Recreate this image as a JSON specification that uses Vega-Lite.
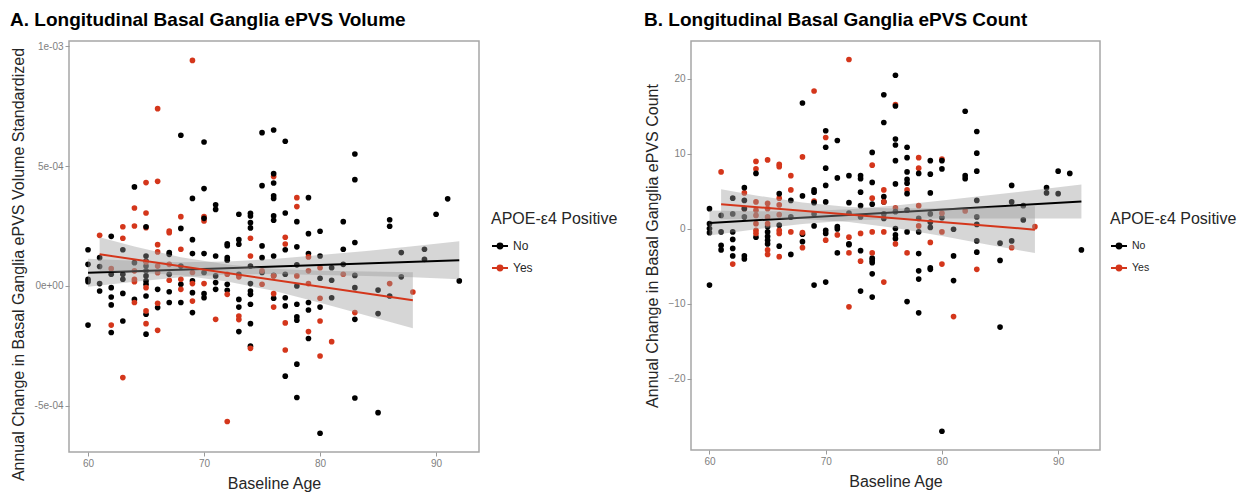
{
"$schema": "https://vega.github.io/schema/vega-lite/v6.json",
"background": "white",
"padding": {"left": 9, "top": 10, "right": 5, "bottom": 2},
"spacing": 24,
"config": {
  "font": "Liberation Sans",
  "view": {"stroke": "#a6a6a6", "strokeWidth": 1.5},
  "axis": {"grid": false, "domain": false, "tickColor": "#9a9a9a", "tickSize": 4, "labelColor": "#808080", "labelFontSize": 10, "labelPadding": 2, "titleFontSize": 16, "titleFontWeight": "normal", "titleColor": "#262626"},
  "title": {"anchor": "start", "frame": "bounds", "fontSize": 19, "fontWeight": "bold", "color": "#000000", "offset": 11},
  "legend": {"titleFontSize": 16, "titleFontWeight": "normal", "titleColor": "#262626", "labelColor": "#262626", "symbolSize": 256, "symbolStrokeWidth": 2, "rowPadding": 6, "titlePadding": 10}
},
"datasets": {
  "ptsA": [
    {"x":69,"y":9.40e-4,"g":"Yes"},{"x":66,"y":7.39e-4,"g":"Yes"},{"x":76,"y":4.56e-4,"g":"Yes"},{"x":65,"y":4.31e-4,"g":"Yes"},{"x":66,"y":4.36e-4,"g":"Yes"},{"x":78,"y":3.68e-4,"g":"Yes"},{"x":64,"y":3.25e-4,"g":"Yes"},{"x":65,"y":3.04e-4,"g":"Yes"},{"x":68,"y":2.89e-4,"g":"Yes"},{"x":78,"y":3.31e-4,"g":"Yes"},{"x":70,"y":2.89e-4,"g":"Yes"},{"x":70,"y":2.71e-4,"g":"Yes"},{"x":65,"y":2.43e-4,"g":"Yes"},{"x":63,"y":2.47e-4,"g":"Yes"},{"x":64,"y":2.50e-4,"g":"Yes"},{"x":67,"y":2.29e-4,"g":"Yes"},{"x":67,"y":2.22e-4,"g":"Yes"},{"x":61,"y":2.11e-4,"g":"Yes"},{"x":63,"y":1.99e-4,"g":"Yes"},{"x":74,"y":1.99e-4,"g":"Yes"},{"x":77,"y":2.03e-4,"g":"Yes"},{"x":77,"y":1.75e-4,"g":"Yes"},{"x":66,"y":1.72e-4,"g":"Yes"},{"x":68,"y":1.53e-4,"g":"Yes"},
    {"x":68,"y":6.28e-4,"g":"No"},{"x":70,"y":6.00e-4,"g":"No"},{"x":75,"y":6.39e-4,"g":"No"},{"x":76,"y":6.50e-4,"g":"No"},{"x":77,"y":6.03e-4,"g":"No"},{"x":83,"y":5.50e-4,"g":"No"},{"x":83,"y":4.43e-4,"g":"No"},{"x":76,"y":4.68e-4,"g":"No"},{"x":76,"y":4.29e-4,"g":"No"},{"x":75,"y":4.18e-4,"g":"No"},{"x":64,"y":4.13e-4,"g":"No"},{"x":70,"y":4.06e-4,"g":"No"},{"x":69,"y":3.65e-4,"g":"No"},{"x":76,"y":3.76e-4,"g":"No"},{"x":76,"y":3.65e-4,"g":"No"},{"x":79,"y":3.68e-4,"g":"No"},{"x":91,"y":3.63e-4,"g":"No"},{"x":71,"y":3.38e-4,"g":"No"},{"x":71,"y":3.19e-4,"g":"No"},{"x":73,"y":2.99e-4,"g":"No"},{"x":74,"y":3.03e-4,"g":"No"},{"x":74,"y":2.92e-4,"g":"No"},{"x":74,"y":2.64e-4,"g":"No"},{"x":74,"y":2.42e-4,"g":"No"},{"x":76,"y":2.92e-4,"g":"No"},{"x":76,"y":2.74e-4,"g":"No"},{"x":77,"y":3.04e-4,"g":"No"},{"x":70,"y":2.82e-4,"g":"No"},{"x":78,"y":2.68e-4,"g":"No"},{"x":82,"y":2.68e-4,"g":"No"},{"x":86,"y":2.76e-4,"g":"No"},{"x":86,"y":2.49e-4,"g":"No"},{"x":90,"y":2.99e-4,"g":"No"},{"x":65,"y":2.47e-4,"g":"No"},{"x":68,"y":2.40e-4,"g":"No"},{"x":79,"y":2.18e-4,"g":"No"},{"x":80,"y":2.28e-4,"g":"No"},{"x":62,"y":2.07e-4,"g":"No"},{"x":69,"y":1.93e-4,"g":"No"},{"x":73,"y":1.93e-4,"g":"No"},{"x":72,"y":1.76e-4,"g":"No"},{"x":72,"y":1.68e-4,"g":"No"},{"x":73,"y":1.74e-4,"g":"No"},{"x":75,"y":1.67e-4,"g":"No"},{"x":78,"y":1.63e-4,"g":"No"},{"x":83,"y":1.81e-4,"g":"No"},{"x":60,"y":1.51e-4,"g":"No"},{"x":63,"y":1.51e-4,"g":"No"},{"x":77,"y":1.51e-4,"g":"No"},{"x":82,"y":1.53e-4,"g":"No"},{"x":89,"y":1.53e-4,"g":"No"},{"x":87,"y":1.39e-4,"g":"No"},
    {"x":60,"y":0.90e-4,"g":"No"},{"x":60,"y":0.28e-4,"g":"No"},{"x":60,"y":0.18e-4,"g":"No"},{"x":60,"y":-1.63e-4,"g":"No"},
    {"x":61,"y":1.18e-4,"g":"No"},{"x":61,"y":0.81e-4,"g":"No"},{"x":61,"y":0.10e-4,"g":"No"},{"x":61,"y":-0.21e-4,"g":"No"},
    {"x":62,"y":0.49e-4,"g":"No"},{"x":62,"y":-0.07e-4,"g":"No"},{"x":62,"y":-0.46e-4,"g":"No"},{"x":62,"y":-0.79e-4,"g":"No"},{"x":62,"y":-1.94e-4,"g":"No"},
    {"x":63,"y":0.49e-4,"g":"No"},{"x":63,"y":0.28e-4,"g":"No"},{"x":63,"y":-0.31e-4,"g":"No"},{"x":63,"y":-1.46e-4,"g":"No"},
    {"x":64,"y":0.97e-4,"g":"No"},{"x":64,"y":-0.56e-4,"g":"No"},
    {"x":65,"y":1.25e-4,"g":"No"},{"x":65,"y":1.04e-4,"g":"No"},{"x":65,"y":0.83e-4,"g":"No"},{"x":65,"y":0.63e-4,"g":"No"},{"x":65,"y":0.42e-4,"g":"No"},{"x":65,"y":0.21e-4,"g":"No"},{"x":65,"y":0.07e-4,"g":"No"},{"x":65,"y":-0.42e-4,"g":"No"},{"x":65,"y":-1.18e-4,"g":"No"},{"x":65,"y":-2.01e-4,"g":"No"},
    {"x":66,"y":-0.14e-4,"g":"No"},{"x":66,"y":-0.90e-4,"g":"No"},
    {"x":67,"y":1.39e-4,"g":"No"},{"x":67,"y":1.32e-4,"g":"No"},{"x":67,"y":0.49e-4,"g":"No"},{"x":67,"y":-0.24e-4,"g":"No"},{"x":67,"y":-0.69e-4,"g":"No"},
    {"x":68,"y":0.83e-4,"g":"No"},{"x":68,"y":0.07e-4,"g":"No"},{"x":68,"y":-0.69e-4,"g":"No"},
    {"x":69,"y":1.35e-4,"g":"No"},{"x":69,"y":0.21e-4,"g":"No"},{"x":69,"y":-0.28e-4,"g":"No"},{"x":69,"y":-1.11e-4,"g":"No"},
    {"x":70,"y":1.35e-4,"g":"No"},{"x":70,"y":0.56e-4,"g":"No"},{"x":70,"y":-0.32e-4,"g":"No"},{"x":70,"y":-0.49e-4,"g":"No"},
    {"x":71,"y":1.25e-4,"g":"No"},{"x":71,"y":0.42e-4,"g":"No"},{"x":71,"y":0.14e-4,"g":"No"},{"x":71,"y":-0.14e-4,"g":"No"},
    {"x":72,"y":1.18e-4,"g":"No"},{"x":72,"y":1.07e-4,"g":"No"},{"x":72,"y":0.07e-4,"g":"No"},{"x":72,"y":-0.18e-4,"g":"No"},
    {"x":73,"y":0.49e-4,"g":"No"},{"x":73,"y":-0.56e-4,"g":"No"},{"x":73,"y":-0.88e-4,"g":"No"},{"x":73,"y":-1.90e-4,"g":"No"},
    {"x":74,"y":0.83e-4,"g":"No"},{"x":74,"y":0.10e-4,"g":"No"},{"x":74,"y":-0.21e-4,"g":"No"},{"x":74,"y":-0.35e-4,"g":"No"},{"x":74,"y":-0.76e-4,"g":"No"},{"x":74,"y":-1.57e-4,"g":"No"},{"x":74,"y":-2.51e-4,"g":"No"},
    {"x":75,"y":1.18e-4,"g":"No"},{"x":75,"y":0.56e-4,"g":"No"},
    {"x":76,"y":1.25e-4,"g":"No"},{"x":76,"y":0.44e-4,"g":"No"},{"x":76,"y":-0.51e-4,"g":"No"},
    {"x":77,"y":0.49e-4,"g":"No"},{"x":77,"y":-0.49e-4,"g":"No"},{"x":77,"y":-0.83e-4,"g":"No"},{"x":77,"y":-3.76e-4,"g":"No"},
    {"x":78,"y":0.88e-4,"g":"No"},{"x":78,"y":0.0,"g":"No"},{"x":78,"y":-0.76e-4,"g":"No"},{"x":78,"y":-1.29e-4,"g":"No"},{"x":78,"y":-1.43e-4,"g":"No"},{"x":78,"y":-3.26e-4,"g":"No"},{"x":78,"y":-4.65e-4,"g":"No"},
    {"x":79,"y":1.35e-4,"g":"No"},{"x":79,"y":-0.69e-4,"g":"No"},{"x":79,"y":-1.00e-4,"g":"No"},{"x":79,"y":-2.19e-4,"g":"No"},
    {"x":80,"y":1.25e-4,"g":"No"},{"x":80,"y":0.32e-4,"g":"No"},{"x":80,"y":-0.88e-4,"g":"No"},{"x":80,"y":-6.14e-4,"g":"No"},
    {"x":81,"y":0.76e-4,"g":"No"},{"x":81,"y":0.24e-4,"g":"No"},{"x":81,"y":-0.49e-4,"g":"No"},
    {"x":82,"y":0.90e-4,"g":"No"},
    {"x":83,"y":0.44e-4,"g":"No"},{"x":83,"y":-0.07e-4,"g":"No"},{"x":83,"y":-1.39e-4,"g":"No"},{"x":83,"y":-4.67e-4,"g":"No"},
    {"x":85,"y":-0.17e-4,"g":"No"},{"x":85,"y":-1.15e-4,"g":"No"},{"x":85,"y":-5.28e-4,"g":"No"},
    {"x":86,"y":-0.42e-4,"g":"No"},{"x":87,"y":0.38e-4,"g":"No"},{"x":89,"y":1.11e-4,"g":"No"},{"x":92,"y":0.21e-4,"g":"No"},
    {"x":62,"y":0.72e-4,"g":"Yes"},{"x":62,"y":-1.63e-4,"g":"Yes"},{"x":63,"y":-3.82e-4,"g":"Yes"},
    {"x":64,"y":0.63e-4,"g":"Yes"},{"x":64,"y":0.28e-4,"g":"Yes"},{"x":64,"y":0.18e-4,"g":"Yes"},{"x":64,"y":-0.69e-4,"g":"Yes"},
    {"x":65,"y":1.00e-4,"g":"Yes"},{"x":65,"y":-0.07e-4,"g":"Yes"},{"x":65,"y":-1.04e-4,"g":"Yes"},{"x":65,"y":-1.57e-4,"g":"Yes"},
    {"x":66,"y":1.42e-4,"g":"Yes"},{"x":66,"y":0.83e-4,"g":"Yes"},{"x":66,"y":0.55e-4,"g":"Yes"},{"x":66,"y":-0.72e-4,"g":"Yes"},{"x":66,"y":-1.85e-4,"g":"Yes"},
    {"x":67,"y":0.90e-4,"g":"Yes"},{"x":67,"y":0.24e-4,"g":"Yes"},
    {"x":68,"y":0.28e-4,"g":"Yes"},{"x":68,"y":-0.14e-4,"g":"Yes"},
    {"x":69,"y":0.56e-4,"g":"Yes"},{"x":69,"y":0.10e-4,"g":"Yes"},{"x":69,"y":-0.63e-4,"g":"Yes"},
    {"x":70,"y":0.10e-4,"g":"Yes"},{"x":71,"y":-1.39e-4,"g":"Yes"},
    {"x":72,"y":0.49e-4,"g":"Yes"},{"x":72,"y":-0.35e-4,"g":"Yes"},{"x":72,"y":-5.65e-4,"g":"Yes"},
    {"x":73,"y":0.38e-4,"g":"Yes"},{"x":73,"y":-1.25e-4,"g":"Yes"},{"x":73,"y":-1.40e-4,"g":"Yes"},
    {"x":74,"y":1.25e-4,"g":"Yes"},{"x":74,"y":-2.60e-4,"g":"Yes"},
    {"x":75,"y":0.63e-4,"g":"Yes"},{"x":75,"y":0.07e-4,"g":"Yes"},
    {"x":76,"y":0.42e-4,"g":"Yes"},{"x":76,"y":-0.32e-4,"g":"Yes"},{"x":76,"y":-0.88e-4,"g":"Yes"},
    {"x":77,"y":-1.54e-4,"g":"Yes"},{"x":77,"y":-2.67e-4,"g":"Yes"},
    {"x":78,"y":0.42e-4,"g":"Yes"},
    {"x":79,"y":1.21e-4,"g":"Yes"},{"x":79,"y":0.63e-4,"g":"Yes"},{"x":79,"y":0.10e-4,"g":"Yes"},{"x":79,"y":-1.90e-4,"g":"Yes"},
    {"x":80,"y":0.76e-4,"g":"Yes"},{"x":80,"y":-0.51e-4,"g":"Yes"},{"x":80,"y":-1.46e-4,"g":"Yes"},{"x":80,"y":-2.92e-4,"g":"Yes"},
    {"x":81,"y":-2.32e-4,"g":"Yes"},{"x":82,"y":0.49e-4,"g":"Yes"},{"x":83,"y":-1.11e-4,"g":"Yes"},{"x":86,"y":0.10e-4,"g":"Yes"},{"x":88,"y":-0.25e-4,"g":"Yes"}
  ],
  "bandA": [
    {"x":60,"lo":-3e-6,"hi":1.133e-4,"g":"No"},{"x":64,"lo":1.77e-5,"hi":1.053e-4,"g":"No"},{"x":68,"lo":3.67e-5,"hi":9.93e-5,"g":"No"},{"x":72,"lo":4.74e-5,"hi":1.016e-4,"g":"No"},{"x":76,"lo":4.97e-5,"hi":1.123e-4,"g":"No"},{"x":80,"lo":4.58e-5,"hi":1.292e-4,"g":"No"},{"x":84,"lo":4.19e-5,"hi":1.461e-4,"g":"No"},{"x":88,"lo":3.59e-5,"hi":1.651e-4,"g":"No"},{"x":92,"lo":2.78e-5,"hi":1.862e-4,"g":"No"},
    {"x":61,"lo":6.12e-5,"hi":2.028e-4,"g":"Yes"},{"x":64,"lo":5.65e-5,"hi":1.649e-4,"g":"Yes"},{"x":68,"lo":4.48e-5,"hi":1.198e-4,"g":"Yes"},{"x":72,"lo":1.85e-5,"hi":8.93e-5,"g":"Yes"},{"x":76,"lo":-2.03e-5,"hi":7.13e-5,"g":"Yes"},{"x":80,"lo":-6.96e-5,"hi":6.38e-5,"g":"Yes"},{"x":84,"lo":-1.23e-4,"hi":6.04e-5,"g":"Yes"},{"x":88,"lo":-1.763e-4,"hi":5.71e-5,"g":"Yes"}
  ],
  "lineA": [
    {"x":60,"y":5.5e-5,"g":"No"},{"x":92,"y":1.07e-4,"g":"No"},
    {"x":61,"y":1.32e-4,"g":"Yes"},{"x":88,"y":-5.96e-5,"g":"Yes"}
  ],
  "ptsB": [
    {"x":72,"y":22.6,"g":"Yes"},{"x":69,"y":18.4,"g":"Yes"},{"x":76,"y":16.6,"g":"Yes"},{"x":70,"y":12.2,"g":"Yes"},{"x":68,"y":9.6,"g":"Yes"},{"x":78,"y":9.5,"g":"Yes"},{"x":80,"y":9.3,"g":"Yes"},{"x":64,"y":9.0,"g":"Yes"},{"x":65,"y":9.2,"g":"Yes"},{"x":66,"y":8.6,"g":"Yes"},{"x":66,"y":8.3,"g":"Yes"},{"x":74,"y":8.5,"g":"Yes"},{"x":64,"y":8.0,"g":"Yes"},{"x":78,"y":8.1,"g":"Yes"},{"x":61,"y":7.6,"g":"Yes"},{"x":67,"y":7.1,"g":"Yes"},{"x":67,"y":5.2,"g":"Yes"},{"x":75,"y":5.2,"g":"Yes"},{"x":77,"y":5.2,"g":"Yes"},{"x":63,"y":4.8,"g":"Yes"},{"x":74,"y":4.1,"g":"Yes"},{"x":66,"y":4.1,"g":"Yes"},{"x":69,"y":3.7,"g":"Yes"},{"x":63,"y":2.7,"g":"Yes"},{"x":78,"y":3.1,"g":"Yes"},{"x":82,"y":2.4,"g":"Yes"},{"x":76,"y":2.8,"g":"Yes"},
    {"x":76,"y":20.5,"g":"No"},{"x":75,"y":17.9,"g":"No"},{"x":68,"y":16.8,"g":"No"},{"x":76,"y":16.4,"g":"No"},{"x":82,"y":15.7,"g":"No"},{"x":75,"y":14.2,"g":"No"},{"x":70,"y":13.1,"g":"No"},{"x":70,"y":10.9,"g":"No"},{"x":83,"y":13.0,"g":"No"},{"x":71,"y":11.8,"g":"No"},{"x":76,"y":12.0,"g":"No"},{"x":76,"y":11.2,"g":"No"},{"x":77,"y":10.9,"g":"No"},{"x":74,"y":10.2,"g":"No"},{"x":83,"y":10.1,"g":"No"},{"x":77,"y":9.5,"g":"No"},{"x":80,"y":9.1,"g":"No"},{"x":76,"y":9.1,"g":"No"},{"x":79,"y":9.1,"g":"No"},{"x":64,"y":7.4,"g":"No"},{"x":70,"y":8.1,"g":"No"},{"x":80,"y":8.0,"g":"No"},{"x":77,"y":7.6,"g":"No"},{"x":83,"y":7.7,"g":"No"},{"x":90,"y":7.7,"g":"No"},{"x":91,"y":7.4,"g":"No"},{"x":78,"y":7.4,"g":"No"},{"x":79,"y":7.3,"g":"No"},{"x":72,"y":7.1,"g":"No"},{"x":73,"y":7.1,"g":"No"},{"x":73,"y":6.7,"g":"No"},{"x":82,"y":7.1,"g":"No"},{"x":82,"y":6.7,"g":"No"},{"x":71,"y":6.8,"g":"No"},{"x":77,"y":6.6,"g":"No"},{"x":77,"y":6.1,"g":"No"},{"x":74,"y":6.2,"g":"No"},{"x":76,"y":6.0,"g":"No"},{"x":86,"y":5.8,"g":"No"},{"x":70,"y":5.8,"g":"No"},{"x":63,"y":5.5,"g":"No"},{"x":89,"y":5.5,"g":"No"},{"x":89,"y":4.8,"g":"No"},{"x":90,"y":4.7,"g":"No"},{"x":69,"y":5.2,"g":"No"},{"x":69,"y":4.9,"g":"No"},{"x":77,"y":4.7,"g":"No"},{"x":73,"y":4.9,"g":"No"},{"x":68,"y":4.4,"g":"No"},{"x":66,"y":4.7,"g":"No"},{"x":79,"y":4.8,"g":"No"},{"x":75,"y":4.3,"g":"No"},{"x":62,"y":4.1,"g":"No"},{"x":63,"y":3.8,"g":"No"},{"x":67,"y":3.8,"g":"No"},{"x":70,"y":3.6,"g":"No"},{"x":83,"y":3.8,"g":"No"},{"x":86,"y":3.6,"g":"No"},{"x":75,"y":3.6,"g":"No"},{"x":74,"y":3.3,"g":"No"},{"x":69,"y":3.5,"g":"No"},{"x":72,"y":3.5,"g":"No"},{"x":87,"y":3.1,"g":"No"},{"x":73,"y":3.1,"g":"No"},{"x":87,"y":1.2,"g":"No"},{"x":61,"y":1.8,"g":"No"},{"x":60,"y":2.7,"g":"No"},{"x":62,"y":2.0,"g":"No"},
    {"x":60,"y":0.7,"g":"No"},{"x":60,"y":0.05,"g":"No"},{"x":60,"y":-0.5,"g":"No"},{"x":60,"y":-7.5,"g":"No"},
    {"x":61,"y":-0.4,"g":"No"},{"x":61,"y":-2.2,"g":"No"},{"x":61,"y":-2.8,"g":"No"},
    {"x":62,"y":-0.4,"g":"No"},{"x":62,"y":-1.4,"g":"No"},{"x":62,"y":-2.6,"g":"No"},{"x":62,"y":-3.6,"g":"No"},
    {"x":63,"y":2.7,"g":"No"},{"x":63,"y":1.6,"g":"No"},{"x":63,"y":-3.6,"g":"No"},{"x":63,"y":-4.0,"g":"No"},
    {"x":64,"y":-1.1,"g":"No"},
    {"x":65,"y":0.3,"g":"No"},{"x":65,"y":-0.4,"g":"No"},{"x":65,"y":-1.0,"g":"No"},{"x":65,"y":-1.5,"g":"No"},{"x":65,"y":-2.0,"g":"No"},
    {"x":66,"y":0.5,"g":"No"},{"x":66,"y":-2.3,"g":"No"},
    {"x":67,"y":1.6,"g":"No"},{"x":67,"y":-3.4,"g":"No"},
    {"x":68,"y":-0.7,"g":"No"},{"x":68,"y":-1.7,"g":"No"},
    {"x":69,"y":2.0,"g":"No"},{"x":69,"y":0.4,"g":"No"},{"x":69,"y":-7.5,"g":"No"},
    {"x":70,"y":-0.2,"g":"No"},{"x":70,"y":-0.6,"g":"No"},{"x":70,"y":-7.1,"g":"No"},
    {"x":71,"y":0.3,"g":"No"},{"x":71,"y":0.0,"g":"No"},{"x":71,"y":-3.2,"g":"No"},
    {"x":72,"y":2.1,"g":"No"},{"x":72,"y":-2.0,"g":"No"},{"x":72,"y":-2.1,"g":"No"},
    {"x":73,"y":1.6,"g":"No"},{"x":73,"y":-2.9,"g":"No"},{"x":73,"y":-8.3,"g":"No"},
    {"x":74,"y":-3.9,"g":"No"},{"x":74,"y":-4.2,"g":"No"},{"x":74,"y":-4.5,"g":"No"},{"x":74,"y":-6.0,"g":"No"},{"x":74,"y":-9.1,"g":"No"},
    {"x":75,"y":2.0,"g":"No"},{"x":75,"y":1.4,"g":"No"},
    {"x":76,"y":2.3,"g":"No"},{"x":76,"y":0.05,"g":"No"},{"x":76,"y":-0.8,"g":"No"},{"x":76,"y":-1.3,"g":"No"},
    {"x":77,"y":2.5,"g":"No"},{"x":77,"y":-0.4,"g":"No"},{"x":77,"y":-9.7,"g":"No"},
    {"x":78,"y":1.4,"g":"No"},{"x":78,"y":-0.4,"g":"No"},{"x":78,"y":-3.3,"g":"No"},{"x":78,"y":-5.6,"g":"No"},{"x":78,"y":-6.7,"g":"No"},{"x":78,"y":-11.2,"g":"No"},
    {"x":79,"y":2.0,"g":"No"},{"x":79,"y":0.9,"g":"No"},{"x":79,"y":0.2,"g":"No"},{"x":79,"y":-5.2,"g":"No"},{"x":79,"y":-5.4,"g":"No"},
    {"x":80,"y":1.5,"g":"No"},{"x":80,"y":-27.0,"g":"No"},
    {"x":81,"y":-0.05,"g":"No"},{"x":81,"y":-3.6,"g":"No"},{"x":81,"y":-6.9,"g":"No"},
    {"x":83,"y":1.6,"g":"No"},{"x":83,"y":0.6,"g":"No"},{"x":83,"y":-1.6,"g":"No"},{"x":83,"y":-3.1,"g":"No"},
    {"x":85,"y":-1.9,"g":"No"},{"x":85,"y":-4.2,"g":"No"},{"x":85,"y":-13.1,"g":"No"},
    {"x":86,"y":-1.6,"g":"No"},{"x":92,"y":-2.8,"g":"No"},
    {"x":62,"y":-4.7,"g":"Yes"},
    {"x":64,"y":3.6,"g":"Yes"},{"x":64,"y":2.5,"g":"Yes"},{"x":64,"y":1.8,"g":"Yes"},{"x":64,"y":0.7,"g":"Yes"},{"x":64,"y":-0.2,"g":"Yes"},{"x":64,"y":-0.6,"g":"Yes"},
    {"x":65,"y":3.4,"g":"Yes"},{"x":65,"y":2.7,"g":"Yes"},{"x":65,"y":1.6,"g":"Yes"},{"x":65,"y":0.7,"g":"Yes"},{"x":65,"y":-2.8,"g":"Yes"},{"x":65,"y":-3.4,"g":"Yes"},
    {"x":66,"y":3.2,"g":"Yes"},{"x":66,"y":1.9,"g":"Yes"},{"x":66,"y":-0.2,"g":"Yes"},{"x":66,"y":-0.6,"g":"Yes"},{"x":66,"y":-3.7,"g":"Yes"},
    {"x":67,"y":-0.4,"g":"Yes"},{"x":68,"y":-0.5,"g":"Yes"},{"x":68,"y":-2.5,"g":"Yes"},
    {"x":70,"y":-1.5,"g":"Yes"},{"x":71,"y":-0.8,"g":"Yes"},
    {"x":72,"y":-1.1,"g":"Yes"},{"x":72,"y":-3.2,"g":"Yes"},{"x":72,"y":-10.4,"g":"Yes"},
    {"x":73,"y":-0.6,"g":"Yes"},{"x":73,"y":-4.3,"g":"Yes"},
    {"x":74,"y":-0.4,"g":"Yes"},{"x":74,"y":-3.2,"g":"Yes"},
    {"x":75,"y":3.6,"g":"Yes"},{"x":75,"y":-0.4,"g":"Yes"},{"x":75,"y":-7.1,"g":"Yes"},
    {"x":76,"y":-2.0,"g":"Yes"},{"x":77,"y":-3.2,"g":"Yes"},{"x":78,"y":0.4,"g":"Yes"},{"x":79,"y":-1.8,"g":"Yes"},
    {"x":80,"y":2.1,"g":"Yes"},{"x":80,"y":-0.4,"g":"Yes"},{"x":80,"y":-4.7,"g":"Yes"},
    {"x":81,"y":-11.7,"g":"Yes"},{"x":83,"y":-5.4,"g":"Yes"},{"x":86,"y":-2.5,"g":"Yes"},{"x":88,"y":0.3,"g":"Yes"}
  ],
  "bandB": [
    {"x":60,"lo":-0.87,"hi":2.47,"g":"No"},{"x":64,"lo":-0.04,"hi":2.36,"g":"No"},{"x":68,"lo":0.66,"hi":2.36,"g":"No"},{"x":72,"lo":1.12,"hi":2.62,"g":"No"},{"x":76,"lo":1.33,"hi":3.13,"g":"No"},{"x":80,"lo":1.38,"hi":3.78,"g":"No"},{"x":84,"lo":1.39,"hi":4.49,"g":"No"},{"x":88,"lo":1.39,"hi":5.19,"g":"No"},{"x":92,"lo":1.38,"hi":5.92,"g":"No"},
    {"x":61,"lo":1.3,"hi":5.3,"g":"Yes"},{"x":64,"lo":1.37,"hi":4.47,"g":"Yes"},{"x":68,"lo":1.32,"hi":3.52,"g":"Yes"},{"x":72,"lo":0.92,"hi":2.92,"g":"Yes"},{"x":76,"lo":0.11,"hi":2.71,"g":"Yes"},{"x":80,"lo":-0.94,"hi":2.76,"g":"Yes"},{"x":84,"lo":-2.1,"hi":2.9,"g":"Yes"},{"x":88,"lo":-3.23,"hi":3.03,"g":"Yes"}
  ],
  "lineB": [
    {"x":60,"y":0.8,"g":"No"},{"x":92,"y":3.65,"g":"No"},
    {"x":61,"y":3.3,"g":"Yes"},{"x":88,"y":-0.1,"g":"Yes"}
  ]
},
"resolve": {"scale": {"color": "independent"}, "legend": {"color": "independent"}},
"hconcat": [
  {
    "width": 410, "height": 411,
    "title": {"text": "A. Longitudinal Basal Ganglia ePVS Volume"},
    "encoding": {"x": {"field": "x", "type": "quantitative", "scale": {"domain": [58.36, 93.7], "nice": false, "zero": false}, "axis": {"values": [60, 70, 80, 90], "title": "Baseline Age", "titlePadding": 7}}},
    "layer": [
      {"data": {"name": "ptsA"}, "mark": {"type": "point", "filled": true, "size": 32, "opacity": 1},
       "encoding": {
         "y": {"field": "y", "type": "quantitative", "scale": {"domain": [-6.92e-4, 1.021e-3], "nice": false, "zero": false}, "axis": {"values": [-0.0005, 0, 0.0005, 0.001], "labelExpr": "datum.value == 0.001 ? '1e-03' : datum.value == 0.0005 ? '5e-04' : datum.value == 0 ? '0e+00' : '-5e-04'", "title": "Annual Change in Basal Ganglia ePVS Volume Standardized", "titlePadding": 8, "titleY": 223}},
         "color": {"field": "g", "type": "nominal", "scale": {"domain": ["No", "Yes"], "range": ["#000000", "#d4361b"]},
           "legend": {"title": "APOE-ε4 Positive", "orient": "none", "legendX": 422, "legendY": 170, "labelFontSize": 12,
             "symbolType": "M-1,0H1M-0.3,0A0.3,0.3,0,1,1,0.3,0A0.3,0.3,0,1,1,-0.3,0Z",
             "encode": {"symbols": {"update": {"stroke": {"signal": "datum.value === 'Yes' ? '#d4361b' : '#000000'"}, "fill": {"signal": "datum.value === 'Yes' ? '#d4361b' : '#000000'"}, "strokeWidth": {"value": 2}, "opacity": {"value": 1}}}}}}
       }},
      {"data": {"name": "bandA"}, "transform": [{"filter": "datum.g == 'No'"}], "mark": {"type": "area", "color": "#999999", "opacity": 0.4},
       "encoding": {"y": {"field": "lo", "type": "quantitative"}, "y2": {"field": "hi"}}},
      {"data": {"name": "lineA"}, "transform": [{"filter": "datum.g == 'No'"}], "mark": {"type": "line", "strokeWidth": 2},
       "encoding": {"y": {"field": "y", "type": "quantitative"}, "color": {"field": "g", "type": "nominal"}}},
      {"data": {"name": "bandA"}, "transform": [{"filter": "datum.g == 'Yes'"}], "mark": {"type": "area", "color": "#999999", "opacity": 0.4},
       "encoding": {"y": {"field": "lo", "type": "quantitative"}, "y2": {"field": "hi"}}},
      {"data": {"name": "lineA"}, "transform": [{"filter": "datum.g == 'Yes'"}], "mark": {"type": "line", "strokeWidth": 2},
       "encoding": {"y": {"field": "y", "type": "quantitative"}, "color": {"field": "g", "type": "nominal"}}},
      {"data": {"values": [{}]}, "mark": {"type": "rect", "color": "white", "opacity": 0.85},
       "encoding": {"x": {"datum": 86.55}, "x2": {"datum": 93.95}, "y": {"datum": 8.96e-4}, "y2": {"datum": 1.031e-3}}},
      {"data": {"values": [{"label": "p<0.001"}]}, "mark": {"type": "text", "align": "right", "baseline": "middle", "fontSize": 16, "color": "#262626"},
       "encoding": {"x": {"datum": 92.33}, "y": {"datum": 9.5e-4}, "text": {"field": "label"}}}
    ]
  },
  {
    "width": 409, "height": 409,
    "title": {"text": "B. Longitudinal Basal Ganglia ePVS Count"},
    "encoding": {"x": {"field": "x", "type": "quantitative", "scale": {"domain": [58.41, 93.6], "nice": false, "zero": false}, "axis": {"values": [60, 70, 80, 90], "title": "Baseline Age", "titlePadding": 7}}},
    "layer": [
      {"data": {"name": "ptsB"}, "mark": {"type": "point", "filled": true, "size": 32, "opacity": 1},
       "encoding": {
         "y": {"field": "y", "type": "quantitative", "scale": {"domain": [-29.5, 25.07], "nice": false, "zero": false}, "axis": {"values": [-20, -10, 0, 10, 20], "title": "Annual Change in Basal Ganglia ePVS Count", "titlePadding": 8}},
         "color": {"field": "g", "type": "nominal", "scale": {"domain": ["No", "Yes"], "range": ["#000000", "#d4361b"]},
           "legend": {"title": "APOE-ε4 Positive", "orient": "none", "legendX": 419, "legendY": 170, "labelFontSize": 10.5,
             "symbolType": "M-1,0H1M-0.3,0A0.3,0.3,0,1,1,0.3,0A0.3,0.3,0,1,1,-0.3,0Z",
             "encode": {"symbols": {"update": {"stroke": {"signal": "datum.value === 'Yes' ? '#d4361b' : '#000000'"}, "fill": {"signal": "datum.value === 'Yes' ? '#d4361b' : '#000000'"}, "strokeWidth": {"value": 2}, "opacity": {"value": 1}}}}}}
       }},
      {"data": {"name": "bandB"}, "transform": [{"filter": "datum.g == 'No'"}], "mark": {"type": "area", "color": "#999999", "opacity": 0.4},
       "encoding": {"y": {"field": "lo", "type": "quantitative"}, "y2": {"field": "hi"}}},
      {"data": {"name": "lineB"}, "transform": [{"filter": "datum.g == 'No'"}], "mark": {"type": "line", "strokeWidth": 2},
       "encoding": {"y": {"field": "y", "type": "quantitative"}, "color": {"field": "g", "type": "nominal"}}},
      {"data": {"name": "bandB"}, "transform": [{"filter": "datum.g == 'Yes'"}], "mark": {"type": "area", "color": "#999999", "opacity": 0.4},
       "encoding": {"y": {"field": "lo", "type": "quantitative"}, "y2": {"field": "hi"}}},
      {"data": {"name": "lineB"}, "transform": [{"filter": "datum.g == 'Yes'"}], "mark": {"type": "line", "strokeWidth": 2},
       "encoding": {"y": {"field": "y", "type": "quantitative"}, "color": {"field": "g", "type": "nominal"}}},
      {"data": {"values": [{}]}, "mark": {"type": "rect", "color": "white", "opacity": 0.8},
       "encoding": {"x": {"datum": 86.4}, "x2": {"datum": 93.85}, "y": {"datum": 20.5}, "y2": {"datum": 25.4}}},
      {"data": {"values": [{"label": "p=0.001"}]}, "mark": {"type": "text", "align": "right", "baseline": "middle", "fontSize": 16, "color": "#262626"},
       "encoding": {"x": {"datum": 92.18}, "y": {"datum": 22.9}, "text": {"field": "label"}}}
    ]
  }
]
}
